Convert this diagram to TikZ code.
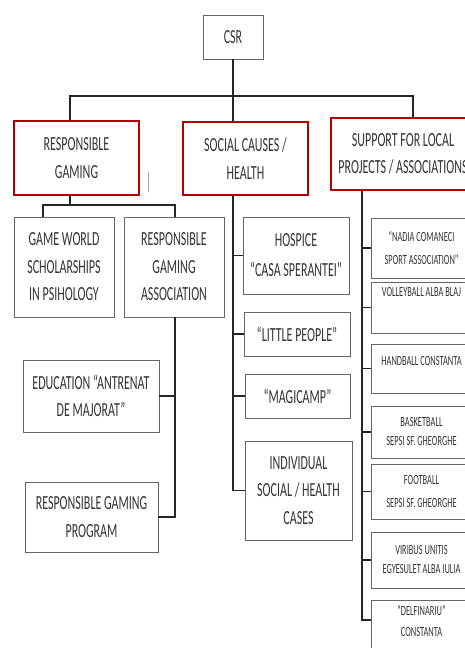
\documentclass[tikz,border=0pt]{standalone}
\usepackage{fontspec}
\setmainfont{Carlito}[FakeStretch=0.6]

\tikzset{
  unit/.style={draw=black!60, line width=.8pt, align=center, inner sep=2pt,
    text=black!80, font=\fontsize{20}{27.5}\selectfont},
  pillar/.style={unit, draw=red!70!black, line width=1.3pt},
  club/.style={unit, font=\fontsize{14}{21}\selectfont},
  link/.style={line width=1.3pt, black!85}
}

\begin{document}
\begin{tikzpicture}[x=1pt, y=-1pt]
    \path[use as bounding box, clip] (0,0) rectangle (465,648);

    % Draw the root and the three pillars
    \node[unit, minimum width=60, minimum height=44] (csr) at (233,37) {CSR};
    \node[pillar, minimum width=125, minimum height=74] (rg) at (76.5,158) {RESPONSIBLE\\GAMING};
    \node[pillar, minimum width=125, minimum height=73] (soc) at (245.5,158.5) {SOCIAL CAUSES /\\HEALTH};
    \node[pillar, minimum width=144, minimum height=72] (sup) at (403,154) {SUPPORT FOR LOCAL\\PROJECTS / ASSOCIATIONS};

    % Responsible gaming
    \node[unit, minimum width=100, minimum height=100] (gw) at (64,267) {GAME WORLD\\SCHOLARSHIPS\\IN PSIHOLOGY};
    \node[unit, minimum width=100, minimum height=100] (rga) at (174,267) {RESPONSIBLE\\GAMING\\ASSOCIATION};
    \node[unit, minimum width=136, minimum height=72] (edu) at (91,396) {EDUCATION “ANTRENAT\\DE MAJORAT”};
    \node[unit, minimum width=133, minimum height=70] (rgp) at (91.5,517) {RESPONSIBLE GAMING\\PROGRAM};

    % Social causes
    \node[unit, minimum width=106, minimum height=77, font=\fontsize{20}{30}\selectfont] (hos) at (296,255.5) {HOSPICE\\“CASA SPERANTEI”};
    \node[unit, minimum width=106, minimum height=44] (lit) at (297,334) {“LITTLE PEOPLE”};
    \node[unit, minimum width=105, minimum height=44] (mag) at (297.5,396) {“MAGICAMP”};
    \node[unit, minimum width=107, minimum height=99] (ind) at (298.5,490.5) {INDIVIDUAL\\SOCIAL / HEALTH\\CASES};

    % Local projects
    \node[club, minimum width=101, minimum height=60, font=\fontsize{14}{23}\selectfont] (nad) at (421.5,248) {“NADIA COMANECI\\SPORT ASSOCIATION”};
    \node[club, minimum width=101, text height=12.5, text depth=34.5] (vol) at (421.5,307.5) {VOLLEYBALL ALBA BLAJ};
    \node[club, minimum width=101, text height=19.5, text depth=25.5] (han) at (421.5,368.5) {HANDBALL CONSTANTA};
    \node[club, minimum width=101, minimum height=52, font=\fontsize{14}{19}\selectfont] (bas) at (421.5,432) {BASKETBALL\\SEPSI SF. GHEORGHE};
    \node[club, minimum width=101, minimum height=55, font=\fontsize{14}{23}\selectfont] (foo) at (421.5,491.5) {FOOTBALL\\SEPSI SF. GHEORGHE};
    \node[club, minimum width=101, minimum height=56, font=\fontsize{14}{19}\selectfont] (vir) at (421.5,560) {VIRIBUS UNITIS\\EGYESULET ALBA IULIA};
    \node[club, minimum width=101, anchor=north, inner ysep=4.5pt, font=\fontsize{14}{21}\selectfont] (del) at (421.5,600) {“DELFINARIU”\\CONSTANTA\\~};

    % Connect root to pillars
    \coordinate (busL) at (70,96);
    \coordinate (busR) at (413,96);
    \draw[link] (csr) -- (csr |- soc.north);
    \draw[link] (busL |- rg.north) -- (busL) -- (busR) -- (busR |- sup.north);

    % Responsible gaming branch
    \coordinate (gwtap) at (43,205);
    \coordinate (rgatap) at (175,205);
    \draw[link] (busL |- rg.south) -- (busL |- gwtap);
    \draw[link] (gwtap |- gw.north) -- (gwtap) -- (rgatap) -- (rgatap |- rga.north);
    \draw[link] (rgatap |- rga.south) -- (rgatap |- rgp.east) -- (rgp.east);
    \draw[link] (edu.east) -- (rgatap |- edu.east);

    % Social causes branch
    \draw[link] (csr |- soc.south) -- (csr |- ind.west) -- (ind.west);
    \foreach \n in {hos,lit,mag}
        \draw[link] (csr |- \n.west) -- (\n.west);

    % Local projects branch
    \coordinate (supspine) at (362,620);
    \draw[link] (supspine |- sup.south) -- (supspine) -- (supspine -| del.west);
    \foreach \n in {nad,vol,han,bas,foo,vir}
        \draw[link] (supspine |- \n.west) -- (\n.west);

    % stray mark beside the first pillar
    \draw[black!35, line width=1pt] (148,172) -- (148,192);
\end{tikzpicture}
\end{document}
